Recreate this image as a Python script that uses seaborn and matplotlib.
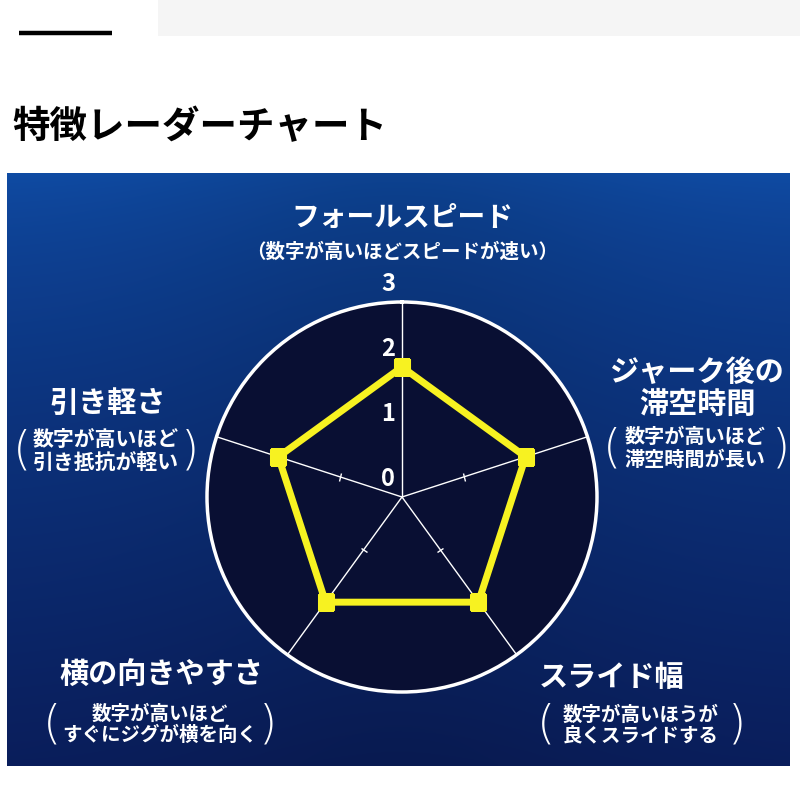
import numpy as np
import matplotlib
matplotlib.use("Agg")
import matplotlib.pyplot as plt
from matplotlib.markers import MarkerStyle
from matplotlib.transforms import Affine2D
import seaborn as sns

sns.set_style("white")
plt.rcParams['font.family'] = ['Noto Sans CJK JP', 'DejaVu Sans']

# data
title = "特徴レーダーチャート"
categories = ["フォールスピード", "ジャーク後の\n滞空時間", "スライド幅", "横の向きやすさ", "引き軽さ"]
notes = ["（数字が高いほどスピードが速い）", "数字が高いほど\n滞空時間が長い", "数字が高いほうが\n良くスライドする",
         "数字が高いほど\nすぐにジグが横を向く", "数字が高いほど\n引き抵抗が軽い"]
values = [2, 2, 2, 2, 2]
scale_ticks = [0, 1, 2, 3]

YELLOW = "#f7f221"

fig = plt.figure(figsize=(8, 8), dpi=100)
fig.patch.set_facecolor("white")

# page / panel layer in pixel coords
bg = fig.add_axes([0, 0, 1, 1])
bg.set_xlim(0, 800)
bg.set_ylim(800, 0)
bg.axis("off")

bg.add_patch(plt.Rectangle((158, 0), 642, 36, color="#f5f5f5", lw=0))
bg.plot([19, 112], [33, 33], color="black", lw=3.2, solid_capstyle="butt")
bg.text(12, 127, title, fontsize=27, fontweight="bold", color="black", ha="left", va="center")

# blue gradient panel
h, w = 200, 200
yy, xx = np.mgrid[0:1:h * 1j, 0:1:w * 1j]
top = np.array([15, 76, 165]) / 255
bot = np.array([10, 30, 92]) / 255
t = yy ** 0.7
grad = top[None, None, :] * (1 - t[..., None]) + bot[None, None, :] * t[..., None]
shade = 1 - 0.12 * np.exp(-((xx - 0.5) / 0.3) ** 2)
grad = np.clip(grad * shade[..., None], 0, 1)
bg.imshow(grad, extent=[7, 790, 766, 173], aspect="auto", interpolation="bilinear", zorder=0)

# radar axes
cx, cy, R = 402, 497, 195
ax = fig.add_axes([(cx - R) / 800, (800 - cy - R) / 800, 2 * R / 800, 2 * R / 800], projection="polar")
ax.set_theta_zero_location("N")
ax.set_theta_direction(-1)
ax.set_facecolor("#090f33")
ax.set_ylim(0, 3)
theta = np.arange(len(categories)) * 2 * np.pi / len(categories)
ax.set_xticks(theta)
ax.set_xticklabels([])
ax.set_yticks([])
ax.xaxis.grid(True, color="white", lw=1.0)
ax.spines["polar"].set_color("white")
ax.spines["polar"].set_linewidth(2.5)

# small ticks at 1 on the other spokes
for th in theta[1:]:
    ang = 90 - np.degrees(th)
    m = MarkerStyle("|", transform=Affine2D().rotate_deg(ang))
    ax.plot([th], [1], marker=m, markersize=6, mew=1, color="white", ls="none")

# scale labels along the top spoke
for v in scale_ticks:
    ax.annotate(str(v), xy=(0, v), xytext=(-10, 13), textcoords="offset points",
                ha="center", va="center", fontsize=17, color="white", fontweight="bold",
                annotation_clip=False)

th_closed = np.append(theta, 2 * np.pi)
val_closed = values + values[:1]
sns.lineplot(x=th_closed, y=val_closed, ax=ax, sort=False, color=YELLOW, lw=5,
             marker="s", markersize=11, markeredgecolor=YELLOW, zorder=5)
ax.set_xlabel("")
ax.set_ylabel("")
ax.set_ylim(0, 3)

# category labels
kw = dict(color="white", ha="center", va="center", fontweight="bold")
bg.text(402, 218, categories[0], fontsize=20, **kw)
bg.text(402, 252, notes[0], fontsize=14, **kw)

label_pos = [None, (697, 388, 695, 448, 612, 781, 14.5),
             (612, 677, 641, 725, 546, 737, 14),
             (161, 675, 160, 725, 52, 268, 14),
             (108, 403, 106, 451, 22, 190, 15)]
for i in range(1, len(categories)):
    mx, my, sx, sy, lx, rx, fs = label_pos[i]
    bg.text(mx, my, categories[i], fontsize=21, linespacing=1.05, **kw)
    bg.text(sx, sy, notes[i], fontsize=fs, linespacing=1.1, **kw)
    bg.text(lx, sy, "(", fontsize=34, color="white", ha="center", va="center",
            family="DejaVu Sans", fontweight="light")
    bg.text(rx, sy, ")", fontsize=34, color="white", ha="center", va="center",
            family="DejaVu Sans", fontweight="light")

fig.savefig("out.png", dpi=100, facecolor="white")
